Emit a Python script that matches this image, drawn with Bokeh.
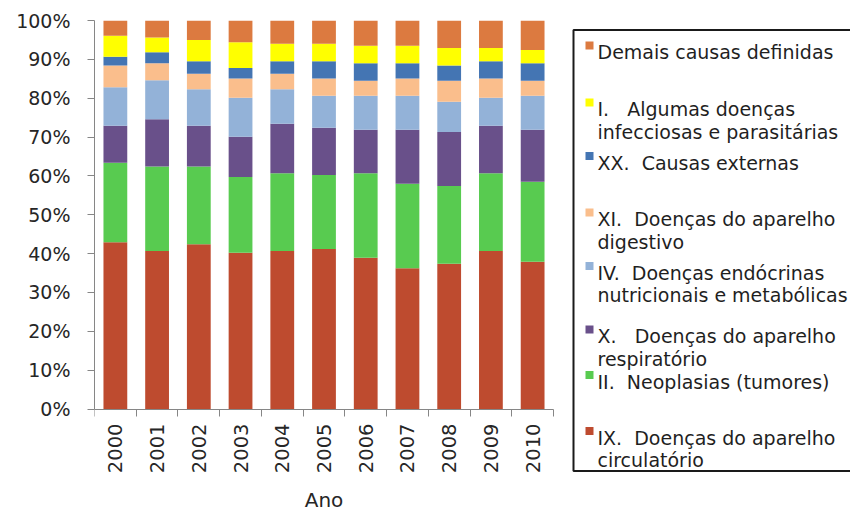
from math import pi
from bokeh.plotting import figure
from bokeh.models import (Range1d, LinearAxis, FixedTicker,
                          PrintfTickFormatter, CustomJSTickFormatter, ColumnDataSource)
from bokeh.core.properties import value
from bokeh.embed import file_html
from bokeh.resources import INLINE

# ---------------- data ----------------
years = ["2000", "2001", "2002", "2003", "2004", "2005", "2006", "2007", "2008", "2009", "2010"]

# stacked bottom -> top (percent of deaths)
circulatorio = [42.9, 40.7, 42.4, 40.2, 40.7, 41.2, 38.9, 36.2, 37.4, 40.7, 37.9]
neoplasias   = [20.5, 21.7, 20.0, 19.5, 20.0, 19.0, 21.8, 21.8, 20.0, 20.0, 20.6]
respiratorio = [9.5, 12.2, 10.5, 10.4, 12.7, 12.2, 11.2, 13.9, 13.9, 12.2, 13.4]
endocrinas   = [9.9, 10.0, 9.4, 10.0, 8.9, 8.2, 8.7, 8.7, 7.8, 7.2, 8.7]
digestivo    = [5.6, 4.4, 4.0, 5.0, 4.0, 4.5, 3.9, 4.5, 5.4, 5.0, 3.9]
externas     = [2.3, 2.8, 3.2, 2.7, 3.2, 4.4, 4.5, 3.9, 3.9, 4.4, 4.5]
infecciosas  = [5.4, 3.8, 5.5, 6.6, 4.5, 4.5, 4.5, 4.5, 4.5, 3.4, 3.4]
demais       = [3.9, 4.4, 5.0, 5.6, 6.0, 6.0, 6.5, 6.5, 7.1, 7.1, 7.6]

keys = ["circulatorio", "neoplasias", "respiratorio", "endocrinas",
        "digestivo", "externas", "infecciosas", "demais"]
labels = [
    "IX.\u00a0\u00a0Doenças do aparelho\ncirculatório",
    "II.\u00a0\u00a0Neoplasias (tumores)",
    "X.\u00a0\u00a0\u00a0Doenças do aparelho\nrespiratório",
    "IV.\u00a0\u00a0Doenças endócrinas\nnutricionais e metabólicas",
    "XI.\u00a0\u00a0Doenças do aparelho\ndigestivo",
    "XX.\u00a0\u00a0Causas externas",
    "I.\u00a0\u00a0\u00a0Algumas doenças\ninfecciosas e parasitárias",
    "Demais causas definidas",
]
colors = ["#BE4B2F", "#58CB50", "#69508A", "#93B2D8", "#FABE8C", "#4475B3", "#FFFF00", "#DC7A40"]

y_ticks = list(range(0, 101, 10))
x_title = "Ano"

# ---------------- layout constants (pixels) ----------------
FRAME_L, FRAME_T, FRAME_R, FRAME_B = 94, 20, 850, 510
AXIS_Y = 408.5                      # pixel row of 0 %
CAT_W = 41.727                      # pixel width of one year slot
PX_PER_PCT = (AXIS_Y - FRAME_T) / 100.0

n = len(years)
slot = [i + 0.5 for i in range(n)]          # category centres on a linear scale
source = ColumnDataSource(dict(
    slot=slot, year=years, circulatorio=circulatorio, neoplasias=neoplasias,
    respiratorio=respiratorio, endocrinas=endocrinas, digestivo=digestivo,
    externas=externas, infecciosas=infecciosas, demais=demais))

GRAY = "#868686"
TXT = "#262626"

p = figure(frame_width=FRAME_R - FRAME_L, frame_height=FRAME_B - FRAME_T,
           x_range=Range1d(0, (FRAME_R - FRAME_L) / CAT_W),
           y_range=Range1d(-(FRAME_B - AXIS_Y) / PX_PER_PCT, 100),
           output_backend="svg", toolbar_location=None,
           x_axis_location=None, y_axis_location=None,
           min_border_left=FRAME_L, min_border_right=0, min_border_top=FRAME_T,
           min_border_bottom=0)
p.outline_line_color = None
p.grid.visible = False

# pixel-space ranges for the legend / free text
p.extra_x_ranges = {"px": Range1d(FRAME_L, FRAME_R)}
p.extra_y_ranges = {"px": Range1d(FRAME_B, FRAME_T)}

p.vbar_stack(keys, x="slot", width=0.57, source=source, fill_color=colors, line_color=None)

yaxis = LinearAxis(ticker=FixedTicker(ticks=y_ticks, minor_ticks=[]),
                   formatter=PrintfTickFormatter(format="%d%%"), bounds=(0, 100),
                   major_tick_out=7, major_tick_in=0, minor_tick_line_color=None,
                   axis_line_color=GRAY, major_tick_line_color=GRAY,
                   major_label_standoff=17,
                   major_label_text_font="DejaVu Sans", major_label_text_font_size="19px",
                   major_label_text_color=TXT)
p.add_layout(yaxis, "left")

# category axis line with ticks between the years, pinned at 0 %
xaxis = LinearAxis(ticker=FixedTicker(ticks=list(range(n + 1)), minor_ticks=[]),
                   formatter=CustomJSTickFormatter(code="return ''"),
                   fixed_location=0, bounds=(0, n),
                   major_tick_out=0, major_tick_in=7, minor_tick_line_color=None,
                   major_label_standoff=0, major_label_text_font_size="1px",
                   axis_line_color=GRAY, major_tick_line_color=GRAY)
p.add_layout(xaxis, "above")

# year labels (rotated, reading upward), just under the axis
label_y = -(423 - AXIS_Y) / PX_PER_PCT
p.text(x=slot, y=[label_y] * n, text=years, angle=pi / 2,
       text_align="right", text_baseline="middle",
       text_font=value("DejaVu Sans"), text_font_size="19.5px", text_color=TXT)

p.text(x=[(FRAME_L + FRAME_L + n * CAT_W) / 2], y=[499], text=[x_title],
       x_range_name="px", y_range_name="px", text_align="center", text_baseline="middle",
       text_font=value("DejaVu Sans"), text_font_size="20px", text_color=TXT)

# ---------------- legend ----------------
p.quad(left=573, right=900, top=29.5, bottom=470.5, fill_color=None,
       line_color="#1a1a1a", line_width=2, x_range_name="px", y_range_name="px")

entry_y = [45, 102, 155.5, 212, 265.5, 329, 374.5, 430.5]   # legend layout (top to bottom)
line_gap = 22.5
order = list(range(len(keys)))[::-1]

sw_y, sw_c, tx, ty = [], [], [], []
for k, idx in enumerate(order):
    sw_y.append(entry_y[k])
    sw_c.append(colors[idx])
    for j, line in enumerate(labels[idx].split("\n")):
        tx.append(line)
        ty.append(entry_y[k] + j * line_gap + 6.9)

p.rect(x=589, y=sw_y, width=8, height=8, fill_color=sw_c, line_color=None,
       x_range_name="px", y_range_name="px")
p.text(x=597, y=ty, text=tx, text_font=value("DejaVu Sans"), text_font_size="19px",
       text_color="#1f1f1f", text_baseline="alphabetic", text_align="left",
       x_range_name="px", y_range_name="px")

open("out.html", "w").write(file_html(p, INLINE))
